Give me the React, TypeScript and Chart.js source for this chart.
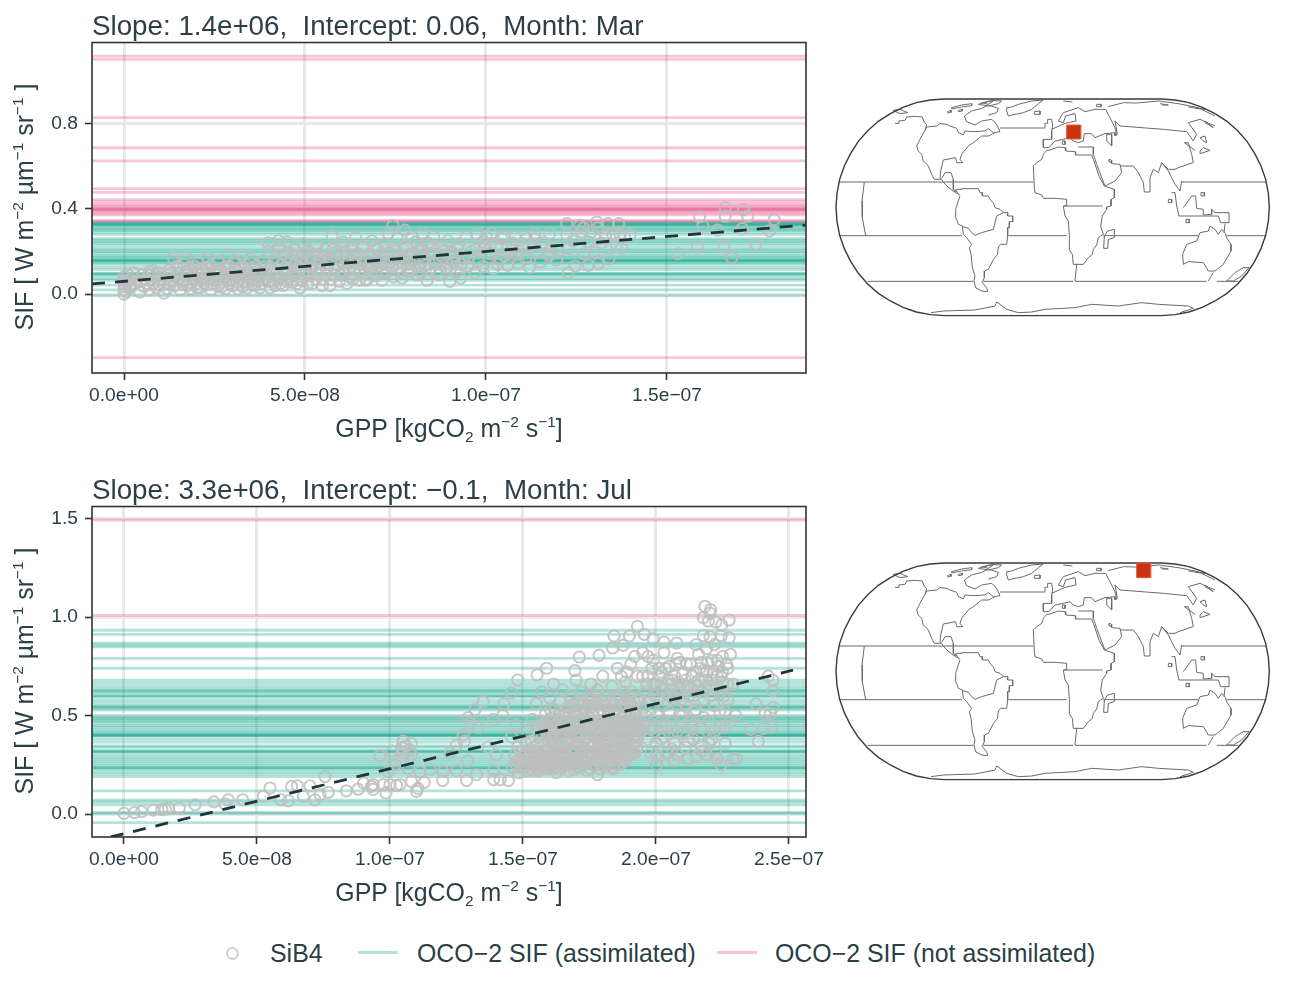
import React, { useEffect, useRef } from "react";
import { Chart, registerables } from "chart.js";
Chart.register(...registerables);

const INK = "#2B3F46";
const FONT = '"Liberation Sans", Arial, sans-serif';

// ---- March panel ----
const titleMar = "Slope: 1.4e+06,  Intercept: 0.06,  Month: Mar";
const tealMar = [.336,.333,.33,.327,.325,.323,.318,.309,.304,.299,.29,.28,.26,.253,.246,.239,.229,.215,.206,.199,.192,.182,.175,.168,.161,.158,.156,.154,.147,.14,.126,.115,.098,.095,.094,.085,.073,.065,.042,.02,-.007];
const pinkMar = [1.115,1.1,.827,.686,.624,.494,.477,.443,.432,.42,.412,.405,.398,.396,.394,.388,.38,.372,.345,.341,-.298];
const gppTicksMar = [0, 5e-8, 1e-7, 1.5e-7];
const gppLabelsMar = ["0.0e+00", "5.0e\u221208", "1.0e\u221207", "1.5e\u221207"];
const sifTicksMar = [0, .4, .8];
const sifLabelsMar = ["0.0", "0.4", "0.8"];
const fitMar = [[-8.84, .0476], [188.4, .3238]];
const sibMar = [
[0,0],[0,.02],[0,.035],[0,.05],[0,.065],[0,.08],[.5,.01],[1,.09],[1,.06],[1.5,.03],[2.6,.1],[2.5,.075],[3,.05],[4.4,.01],[4.5,.06],[5,.09],[5.5,.035],[6,.07],[7,.02],[7,.105],[8,.11],[8,.05],[8.5,.085],[9,.03],[9.5,.1],[10,.065],[11,.005],[11,.045],[11.5,.09],[12,.025],[12.5,.115],[13,.06],[13.6,.17],[14,.08],[14,.04],[14.5,.13],[15,.1],[15.5,.02],[16,.06],[16.5,.14],[17,.17],[17,.085],[17.5,.04],[18,.11],[18.5,.025],[19,.07],[19.5,.13],[20,.05],[20,.095],[20.5,.15],[21,.03],[21.5,.12],[22,.075],[23,.17],[23,.045],[23.5,.1],[24,.02],[24,.135],[25,.065],[25.5,.09],[26,.15],[26,.035],[26.5,.115],[27,.055],[27.5,.08],[28,.025],[28.7,.18],[29,.13],[29,.065],[29.5,.1],[30,.04],[30.5,.155],[31,.085],[31.5,.025],[32,.12],[32.6,.18],[33,.055],[33,.1],[33.5,.14],[34,.03],[34.5,.075],[35,.165],[35,.115],[35.5,.045],[36,.09],[36.5,.135],[37,.06],[37.5,.03],[38,.105],[38.5,.155],[39,.075],[39.8,.24],[40,.2],[40.3,.03],[40.5,.125],[41,.055],[41.5,.17],[42,.095],[42.6,.25],[43,.215],[43,.07],[43.5,.14],[44,.185],[44,.04],[45,.245],[45,.115],[45.5,.08],[46,.16],[46.5,.055],[47,.21],[47,.13],[47.5,.095],[48,.18],[48.6,.03],[49,.15],[49,.065],[49.5,.235],[50,.11],[50.5,.2],[51,.085],[51.5,.165],[52,.05],[52,.13],[53.3,.23],[53.5,.095],[54,.185],[54.5,.145],[55,.07],[55.5,.21],[56,.115],[56.9,.04],[57,.165],[57.5,.275],[58,.09],[58.5,.195],[59,.135],[59.5,.06],[60,.225],[60.5,.245],[60.5,.105],[61,.17],[61.6,.05],[62,.145],[62.5,.08],[63,.205],[63.5,.115],[64,.265],[64,.17],[65,.065],[65.5,.14],[66,.22],[66.5,.095],[67,.065],[67.5,.185],[68,.12],[68.5,.25],[69,.155],[69.5,.085],[70,.21],[70.5,.13],[71.3,.065],[71.5,.175],[72,.235],[72.5,.1],[73,.285],[73.5,.15],[74.3,.322],[74.5,.08],[75,.2],[75.5,.26],[76,.125],[76.8,.075],[77,.17],[77.6,.3],[78,.225],[78.5,.105],[79,.145],[79.5,.27],[80,.19],[80.5,.245],[81,.09],[81.5,.13],[82,.21],[82.5,.285],[83,.165],[83.7,.065],[84,.24],[84.5,.115],[85,.19],[85.5,.27],[86,.145],[87,.09],[87.5,.22],[88,.17],[89,.125],[89.5,.25],[90,.06],[90.5,.195],[91,.15],[92,.105],[92.5,.235],[93,.075],[94,.17],[94.5,.27],[95,.13],[96,.2],[97,.1],[97.5,.28],[98,.155],[99,.245],[99.5,.215],[100,.27],[101,.19],[101.5,.285],[102,.12],[103,.225],[104,.165],[104.5,.26],[105,.27],[106,.135],[107,.205],[108,.27],[108.5,.185],[109,.145],[110,.235],[111,.165],[112,.125],[113.5,.284],[113.5,.26],[114,.2],[115,.15],[117.6,.284],[117.6,.183],[119.5,.159],[122.3,.331],[122.3,.279],[122.7,.215],[122.7,.1],[124.6,.131],[125.9,.323],[126.4,.292],[128.3,.245],[128.3,.135],[130,.197],[130.6,.338],[131,.31],[131,.143],[133,.27],[133.7,.33],[134,.167],[136,.23],[136.7,.33],[137.4,.215],[138.3,.27],[139.8,.278],
[153,.19],[158.4,.221],[159,.362],[159.9,.32],[164,.3],[165.7,.221],[166.1,.405],[166.1,.365],[167.9,.17],[170.8,.307],[171.1,.396],[172.3,.365],[174.5,.232],[178.3,.296],[179.6,.349]
];
const sibMarDense = [
[2,.04],[6.5,.05],[6.8,.09],[9.8,.045],[10.5,.085],[12.2,.05],[13.2,.1],[15.2,.075],[16.2,.045],[17.2,.105],[18.2,.055],[19.2,.09],[20.2,.03],[21.2,.07],[21.8,.1],[22.2,.05],[22.8,.125],[23.8,.075],[24.5,.05],[25.2,.11],[26.2,.07],[27.2,.035],[27.8,.125],[28.2,.095],[29.2,.05],[30.2,.075],[30.8,.115],[31.2,.055],[32.2,.09],[32.8,.035],[33.2,.125],[34.2,.055],[34.8,.1],[35.2,.07],[36.2,.04],[36.8,.11],[37.2,.08],[38.2,.05],[38.8,.13],[39.2,.095],[40.2,.06],[41.2,.11],[41.8,.04],[42.2,.15],[42.8,.08],[43.2,.05],[44.2,.1],[44.8,.125],[45.2,.06],[46.2,.19],[46.8,.085],[47.2,.145],[47.8,.05],[48.2,.11],[48.8,.07],[49.2,.17],[50.2,.135],[50.8,.05],[51.2,.09],[51.8,.115],[52.2,.19],[53,.07],[53.8,.15],[54.2,.115],[54.8,.04],[55.2,.17],[55.8,.09],[56.2,.14],[57.2,.07],[57.8,.21],[58.2,.115],[59,.17],[59.8,.09],[60.2,.15],[61.2,.2],[62.2,.11],[63.2,.07],[63.8,.15],[64.5,.19],[65.2,.105],[66.2,.16],[66.8,.07],[67.2,.13],[68.2,.1],[68.8,.18],[69.2,.22],[70.2,.155],[71.2,.105],[72.2,.14],[73.2,.195],[74.2,.125],[75.2,.165],[76.2,.1],[77.2,.21],[78.2,.14],[78.8,.185],[79.2,.115],[80.2,.16],[81.2,.205],[82.2,.1],[83.2,.135],[84.2,.19],[85.2,.225],[86.2,.105],[87.2,.16],[88.2,.2],[89.2,.145],[90.2,.12],[91.2,.18],[92.2,.21],[93.2,.14],[95.2,.17],[97.2,.21],[99.2,.13],[101.2,.235],[103.2,.14],[105.2,.18],[107.2,.24],[109.2,.2],[111.2,.26],[113,.23],[116,.24],[118,.22],[120,.2],[124,.25],[127,.19],[129,.29],[132,.24],[135,.28],[137,.28],[127,.31]
];

// ---- July panel ----
const titleJul = "Slope: 3.3e+06,  Intercept: \u22120.1,  Month: Jul";
const tealJul = [.933,.912,.868,.858,.849,.79,.74,.679,.664,.649,.636,.628,.623,.616,.603,.6,.593,.578,.565,.552,.544,.542,.537,.527,.497,.487,.485,.475,.469,.459,.449,.441,.431,.421,.413,.405,.402,.4,.398,.395,.38,.365,.346,.34,.324,.318,.316,.314,.3,.289,.279,.269,.258,.248,.238,.236,.233,.225,.213,.203,.19,.118,.071,.061,.046,.008,.003,-.044];
const pinkJul = [1.492, 1.008];
const gppTicksJul = [0, 5e-8, 1e-7, 1.5e-7, 2e-7, 2.5e-7];
const gppLabelsJul = ["0.0e+00", "5.0e\u221208", "1.0e\u221207", "1.5e\u221207", "2.0e\u221207", "2.5e\u221207"];
const sifTicksJul = [0, .5, 1, 1.5];
const sifLabelsJul = ["0.0", "0.5", "1.0", "1.5"];
const fitJul = [[-5, -.1165], [251.5, .73]];
const sibJul = [
[0,.003],[3.9,.007],[6.6,.012],[11,.02],[14.2,.023],[15.5,.025],[16.7,.03],[20.8,.03],[26.7,.047],[33.8,.062],[38,.05],[39.2,.072],[44.6,.072],[52.4,.09],[54.9,.132],[59,.072],[61.8,.067],[63,.14],[65.2,.143],[67.4,.09],[69.9,.143],[71.8,.072],[73.7,.098],[76.8,.11],[75.6,.19],[83.6,.118],[88,.126],[90.1,.157],[93,.14],[93.7,.15],[93.7,.125],[97.5,.15],[98.5,.107],[96.2,.295],[100.6,.32],[99.4,.215],[104.4,.337],[107.5,.325],[108.1,.3],[105,.31],[106.9,.23],[102.5,.145],[100,.15],[103.8,.15],[108.1,.165],[111.3,.215],[110.5,.13],[110,.115],[112.9,.16],[105,.37],[108,.36],[106,.345],[104,.27],[102,.25],[115,.225],[119.8,.17],[120,.215],
[122.6,.31],[125,.35],[125,.22],[127.5,.4],[128,.37],[129.4,.49],[129.2,.27],[128.8,.17],[130,.46],[132,.53],[132.5,.2],[133,.44],[135,.57],[136.9,.34],[138.9,.48],[139,.22],[139,.175],[140,.3],[141.4,.175],[142.4,.5],[142.9,.56],[144.5,.17],[145.7,.615],[145.7,.39],[147.4,.45],[148,.68],[148.3,.21],[155.3,.707],[155.8,.225],[158.9,.74],[162.5,.21],[169.5,.728],[169.2,.225],[171.2,.797],[178,.2],[178.6,.805],[183.7,.843],[184.2,.904],[187.6,.856],[190,.904],[193,.953],[195.6,.912],[198.9,.89],[203,.873],[207.8,.868],[215,.86],[217.8,.906],[220.3,.9],[224.5,.905],[227.5,.895],[200.3,.25],[206.8,.27],[217.1,.32],[222.5,.31],[224.4,.25],[229,.28],[230.3,.28],
[218.4,1.054],[220.5,1.037],[217.8,.997],[220.3,1.02],[219.7,.98],[222.5,.975],[224.7,.96],[227.5,.985],
[242.2,.7],[244,.68],[244,.625],[237.6,.56],[244,.54],[241,.51],[243,.51],[243.5,.44],[240.5,.435],[235.6,.43],[238.5,.37],
[146,.24],[148,.27],[149,.31],[150,.235],[151,.36],[152,.26],[152,.42],[153,.3],[153.5,.48],[154,.22],[154.5,.34],[155,.27],[155,.56],[156,.39],[156.5,.24],[157,.3],[157,.62],[157.5,.45],[158,.26],[158,.35],[158.5,.51],[159,.23],[159,.41],[159.5,.29],[160,.59],[160,.33],[160.5,.47],[161,.25],[161,.38],[161.5,.66],[162,.3],[162,.53],[162.5,.43],[163,.27],[163,.35],[163.5,.5],[164,.23],[164,.57],[164.5,.31],[165,.4],[165,.63],[165.5,.26],[166,.46],[166,.34],[166.5,.54],[167,.29],[167,.22],[167.5,.38],[168,.6],[168,.25],[168.5,.43],[169,.32],[169,.51],[169.5,.27],[170,.36],[170,.68],[170.5,.57],[171,.24],[171,.47],[171.5,.3],[172,.41],[172,.62],[172.5,.34],[173,.26],[173,.53],[173.5,.38],[174,.22],[174,.45],[174.5,.31],[175,.59],[175,.28],[175.5,.66],[176,.35],[176,.5],[176.5,.42],[177,.25],[177,.56],[177.5,.32],[178,.39],[178,.63],[178.5,.29],[179,.47],[179,.23],[179.5,.53],[180,.36],[180,.7],[180.5,.27],[181,.44],[181,.6],[181.5,.33],[182,.25],[182,.5],[182.5,.4],[183,.3],[183,.57],[183.5,.65],[184,.37],[184,.23],[184.5,.46],[185,.28],[185,.53],[185.5,.74],[186,.34],[186,.42],[186.5,.6],[187,.26],[187,.49],[187.5,.31],[188,.38],[188,.56],[188.5,.67],[189,.29],[189,.45],[189.5,.35],[190,.52],[190,.41],[190.5,.76],[191,.31],[191,.62],[191.5,.47],[192,.37],[192,.43],[192.5,.54],[193,.34],[193,.7],[193.5,.4],[194,.47],[194,.58],
[147,.3],[148,.34],[150,.29],[151,.25],[153,.37],[154,.26],[155,.44],[156,.31],[156,.22],[157,.36],[158,.43],[159,.33],[160,.27],[160,.4],[161,.49],[162,.36],[162,.24],[163,.43],[164,.3],[164,.39],[165,.5],[165,.24],[166,.28],[167,.35],[167,.47],[168,.41],[168,.31],[169,.27],[169,.56],[170,.44],[170,.33],[171,.39],[171,.55],[172,.28],[172,.49],[173,.33],[173,.43],[174,.26],[174,.59],[175,.37],[175,.49],[176,.3],[176,.58],[177,.44],[177,.35],[178,.27],[178,.52],[179,.33],[179,.41],[180,.3],[180,.57],[181,.38],[181,.25],[182,.46],[182,.33],[183,.42],[183,.27],[184,.5],[184,.31],[185,.39],[185,.6],[186,.46],[186,.29],[187,.55],[187,.36],[188,.43],[188,.31],[189,.5],[189,.39],[190,.34],[190,.6],[191,.44],[191,.39],[192,.31],[192,.5],[193,.45],[193,.58],
[196,.45],[196,.62],[197,.38],[197,.7],[198,.31],[198,.53],[199,.78],[199,.44],[200,.66],[200,.36],[201,.58],[201,.29],[202,.72],[202,.47],[203,.82],[203,.39],[204,.61],[204,.31],[205,.52],[205,.75],[206,.44],[206,.68],[207,.36],[207,.59],[208,.79],[208,.3],[209,.5],[209,.64],[210,.71],[210,.41],[211,.34],[211,.56],[212,.65],[212,.28],[213,.47],[213,.76],[214,.38],[214,.6],[215,.29],[215,.53],[216,.81],[216,.68],[217,.44],[217,.35],[218,.73],[218,.58],[219,.84],[219,.3],[220,.65],[220,.47],[221,.78],[221,.38],[222,.55],[222,.86],[223,.7],[223,.28],[224,.61],[224,.44],[225,.8],[225,.67],[226,.52],[226,.36],[227,.74],[227,.58],[228,.47],[228,.81],[229,.66],[230,.5],[195,.7],[197,.8],[199,.66],[201,.74],[203,.55],[205,.6],[207,.7],[209,.77],[211,.68],[213,.64],[215,.72],[217,.77],[219,.72],[221,.68],[223,.78],[225,.72],[227,.66],[189,.72],[187,.7],[192,.8],[195,.82],[188,.62]
];
const sibJulDense = [
[147.5,.25],[149.5,.27],[150.5,.3],[151.5,.22],[152.5,.33],[153.2,.25],[154.2,.29],[155.2,.24],[155.7,.35],[156.7,.28],[157.3,.4],[158.2,.31],[158.7,.24],[159.3,.37],[159.7,.27],[160.2,.44],[160.7,.3],[161.2,.23],[161.7,.34],[162.2,.41],[162.7,.27],[163.2,.47],[163.7,.31],[164.2,.36],[164.7,.25],[165.2,.43],[165.7,.3],[166.2,.52],[166.7,.37],[167.2,.26],[167.7,.44],[168.2,.33],[168.7,.49],[169.2,.28],[169.7,.4],[170.2,.24],[170.7,.36],[171.2,.52],[171.7,.43],[172.2,.31],[172.7,.57],[173.2,.26],[173.7,.46],[174.2,.35],[174.7,.41],[175.2,.23],[175.7,.54],[176.2,.31],[176.7,.46],[177.2,.39],[177.7,.27],[178.2,.6],[178.7,.36],[179.2,.44],[179.7,.25],[180.2,.51],[180.7,.31],[181.2,.4],[181.7,.55],[182.2,.28],[182.7,.36],[183.2,.47],[183.7,.24],[184.2,.56],[184.7,.34],[185.2,.43],[185.7,.29],[186.2,.5],[186.7,.38],[187.2,.33],[187.7,.45],[188.2,.27],[188.7,.54],[189.2,.36],[189.7,.42],[190.2,.3],[190.7,.49],[191.2,.35],[191.7,.57],[192.2,.4],[192.7,.33],[193.2,.48],[193.7,.43],
[149,.24],[151,.28],[152.8,.23],[154.8,.31],[156.2,.26],[157.8,.32],[159.2,.25],[160.8,.36],[162.2,.28],[163.8,.41],[165.2,.33],[166.8,.28],[168.2,.38],[169.8,.31],[171.2,.26],[172.8,.37],[174.2,.29],[175.8,.42],[177.2,.28],[178.8,.34],[180.2,.4],[181.8,.28],[183.2,.33],[184.8,.41],[186.2,.25],[187.8,.35],[189.2,.43],[190.8,.32],[192.2,.46],[158.3,.46],[160.3,.53],[162.4,.48],[164.4,.45],[166.4,.49],[168.4,.54],[170.4,.5],[172.4,.48],[174.4,.55],[176.4,.52],[178.4,.47],[180.4,.55],[182.4,.53],[184.4,.48],[186.4,.55],[188.4,.47],[190.4,.56],[192.4,.52],[194.4,.42],
[195.5,.54],[196.5,.66],[197.5,.58],[198.5,.74],[199.5,.6],[200.5,.5],[201.5,.7],[202.5,.63],[203.5,.74],[204.5,.68],[205.5,.66],[206.5,.58],[207.5,.76],[208.5,.67],[209.5,.58],[210.5,.65],[211.5,.76],[212.5,.6],[213.5,.7],[214.5,.52],[215.5,.65],[216.5,.74],[217.5,.62],[218.5,.68],[219.5,.77],[220.5,.6],[221.5,.72],[222.5,.64],[223.5,.75],[224.5,.7],[225.5,.6],[226.5,.76],[196,.5],[198,.43],[200,.3],[202,.38],[204,.45],[206,.33],[208,.42],[210,.5],[212,.37],[214,.45],[216,.39],[218,.49],[220,.36],[222,.42],[224,.52],[226,.44]
];

// ---- map outlines, in projected map units ----
const mapFrame = [[358,24],[316,27],[274,35],[234,49],[196,68],[160,91],[128,119],[100,151],[77,187],[58,225],[44,265],[36,307],[33,349],[36,391],[44,433],[58,473],[77,511],[100,547],[128,579],[160,607],[196,630],[234,649],[274,663],[316,671],[358,674],[1008,674],[1050,671],[1092,663],[1132,649],[1170,630],[1206,607],[1238,579],[1266,547],[1289,511],[1308,473],[1322,433],[1330,391],[1333,349],[1330,307],[1322,265],[1308,225],[1289,187],[1266,151],[1238,119],[1206,91],[1170,68],[1132,49],[1092,35],[1050,27],[1008,24],[358,24]];
const mapParallels = [
[[42,273],[625,273]],[[1070,273],[1325,273]],[[45,434],[410,434]],[[550,434],[725,434]],[[835,434],[1120,434]],[[1205,434],[1322,434]],
[[128,571],[445,571]],[[475,571],[745,571]],[[750,571],[1145,571]],[[1175,571],[1240,571]],[[525,111],[660,111]],[[717,345],[833,345]],
[[118,273],[111,330],[112,380],[122,434]]
];
const northAmerica = [[210,97],[222,97],[222,90],[240,88],[245,78],[270,76],[292,78],[298,95],[305,100],[300,118],[285,145],[275,165],[280,180],[290,190],[295,210],[310,225],[320,250],[328,265],[350,265],[360,280],[380,297],[405,312]];
const northAmericaEast = [[300,118],[305,108],[335,105],[345,98],[365,100],[375,105],[395,112],[400,125],[415,132],[420,120],[445,122],[480,120],[490,113],[505,125],[525,122],[515,100],[500,85],[470,90],[450,102],[425,92],[418,75],[440,60],[470,52],[490,42],[520,52],[515,65],[490,72]];
const northAmericaCoast = [[510,125],[490,135],[470,135],[445,155],[430,165],[410,190],[405,205],[413,215],[395,215],[392,200],[355,207],[347,240],[345,265]];
const centralAmerica = [[350,262],[360,245],[378,245],[385,265],[385,295],[400,305]];
const arcticIslands = [
[[368,62],[378,58],[378,64],[368,66],[368,62]],[[400,58],[412,55],[412,60],[400,62],[400,58]],[[380,50],[410,42],[440,38],[440,44],[410,48],[380,54],[380,50]],
[[460,40],[500,28],[530,30],[520,38],[490,45],[460,40]],[[470,35],[505,30],[490,40],[470,35]],[[205,58],[225,55],[248,65],[225,68],[205,58]],[[628,62],[645,60],[645,70],[628,70],[628,62]],
[[715,30],[742,33]],[[815,40],[828,40],[828,47],[815,47],[815,40]],[[1005,38],[1030,42],[1010,42]],[[1090,48],[1140,55],[1110,52]]
];
const greenland = [[545,50],[560,48],[580,40],[620,30],[655,27],[640,38],[620,55],[595,65],[570,70],[550,75],[545,60],[545,50]];
const southAmerica = [[385,300],[393,300],[393,295],[410,295],[410,293],[460,293],[465,305],[472,305],[472,315],[490,315],[497,328],[505,335],[510,350],[525,355],[535,365],[548,365],[548,375],[563,375],[563,392],[553,392],[553,410],[548,410],[548,435],[545,460],[527,460],[520,468],[518,490],[505,505],[498,520],[490,535],[478,540],[478,560],[472,575],[485,590],[488,602],[470,600],[452,590],[447,570],[450,555],[442,530],[438,490],[433,470],[440,460],[425,440],[415,430],[412,405],[400,400],[395,385],[390,375],[392,355],[400,330],[405,315]];
const amazonBorder = [[412,406],[430,412],[440,425],[450,433],[470,425],[505,415],[515,375],[535,365]];
const africa = [[625,225],[635,215],[650,205],[655,190],[665,178],[672,178],[700,168],[720,170],[722,180],[750,182],[752,192],[800,192],[805,205],[812,225],[822,255],[838,285],[868,295],[868,320],[858,325],[858,345],[845,348],[845,355],[832,375],[827,405],[835,430],[820,440],[815,462],[805,475],[802,490],[790,500],[775,520],[745,520],[742,490],[732,475],[733,433],[730,390],[720,375],[715,345],[725,345],[725,325],[690,322],[655,322],[650,312],[630,305],[628,290],[625,225]];
const capeBorder = [[755,520],[750,570]];
const madagascar = [[836,472],[848,472],[850,445],[868,440],[868,415],[848,420],[838,435],[836,472]];
const europe = [[660,110],[660,97],[668,97],[668,85],[680,85],[683,105],[680,120],[680,145],[655,145],[655,170],[672,170],[690,150],[715,145],[735,140],[745,150],[760,155],[775,150],[778,128],[800,128],[810,140],[840,128],[870,125],[870,135],[877,130],[870,90],[885,105],[1015,115],[1085,122],[1105,150],[1115,130],[1090,95],[1125,85],[1170,105]];
const scandinavia = [[680,115],[720,97],[753,90],[750,68],[722,75],[715,95],[700,90],[715,65],[760,50],[780,62],[810,55],[842,55],[870,110],[875,132]];
const arabia = [[760,168],[805,168],[805,190],[815,220],[840,285],[870,270],[890,245],[885,220],[860,218],[850,208]];
const southAsia = [[885,225],[925,225],[940,245],[955,275],[958,303],[975,303],[975,260],[985,235],[1000,245],[1010,215],[1030,235],[1050,235],[1060,230],[1095,218],[1105,215],[1100,190],[1090,155],[1078,155],[1110,178]];
const indochina = [[1010,215],[1030,240],[1050,280],[1065,300],[1070,270]];
const blackSea = [[845,130],[860,130],[860,165],[845,150],[845,130]];
const siberiaCoast = [[850,47],[895,35],[935,36],[1000,30],[1060,38],[1120,50],[1170,75]];
const indonesia = [[1040,305],[1050,305],[1055,345],[1062,375],[1180,375],[1187,395],[1212,395],[1212,365],[1170,365],[1160,355],[1160,370],[1135,372],[1135,355],[1115,352],[1112,315],[1100,315],[1075,350]];
const smallIslands = [
[[1030,325],[1040,325],[1040,335],[1030,335],[1030,325]],[[1128,305],[1138,305],[1138,315],[1128,315],[1128,305]],[[1083,385],[1093,385],[1093,395],[1083,395],[1083,385]],
[[1125,140],[1140,135],[1145,155],[1135,150],[1125,140]],[[1125,180],[1135,170],[1155,178],[1125,188],[1125,180]],[[1140,90],[1165,110],[1140,95],[1140,90]],
[[712,150],[720,150],[720,160],[712,160],[712,150]],[[852,205],[860,208],[860,215],[852,212],[852,205]]
];
const australia = [[1075,520],[1073,490],[1085,460],[1115,450],[1125,425],[1150,420],[1155,405],[1170,415],[1180,430],[1190,415],[1200,425],[1205,440],[1218,460],[1218,480],[1195,520],[1170,540],[1150,540],[1135,515],[1090,512],[1075,520]];
const australiaBorders = [[[1165,545],[1150,570]],[[1200,398],[1197,425]]];
const newZealand = [[1205,570],[1230,545],[1255,530],[1272,530],[1250,555],[1225,570],[1205,570]];
const antarctica = [[318,665],[355,660],[450,657],[510,645],[515,633],[525,640],[545,655],[580,665],[620,663],[660,655],[750,650],[800,640],[880,645],[950,635],[1000,640],[1090,645],[1105,652],[1065,665]];
const coastLines = [northAmerica, northAmericaEast, northAmericaCoast, centralAmerica, ...arcticIslands, greenland, southAmerica, amazonBorder, africa, capeBorder, madagascar, europe, scandinavia, arabia, southAsia, indochina, blackSea, siberiaCoast, indonesia, ...smallIslands, australia, ...australiaBorders, newZealand, antarctica];
const cellMar = [[725,102],[767,102],[767,144],[725,144],[725,102]];
const cellJul = [[935,24],[977,24],[977,68],[935,68],[935,24]];

const legendLabels = ["SiB4", "OCO\u22122 SIF (assimilated)", "OCO\u22122 SIF (not assimilated)"];

const toXY = (p: number[][]) => p.map(([x, y]) => ({ x, y }));

function Panel({ top, sib, teal, pink, fit, xMin, xMax, yMin, yMax, xTicks, xLabels, yTicks, yLabels }: any) {
  const ref = useRef<HTMLCanvasElement>(null);
  useEffect(() => {
    const hline = (v: number, color: string, order: number) => ({
      data: [{ x: xMin, y: v }, { x: xMax, y: v }], showLine: true, borderColor: color, borderWidth: 2.8, pointRadius: 0, order,
    });
    const frame = {
      id: "frame",
      afterDatasetsDraw(c: any) {
        const a = c.chartArea, g = c.ctx;
        g.save(); g.strokeStyle = "#333333"; g.lineWidth = 1.6;
        g.strokeRect(a.left, a.top, a.right - a.left, a.bottom - a.top); g.restore();
      },
    };
    const chart = new Chart(ref.current!, {
      type: "scatter",
      data: {
        datasets: [
          ...teal.map((v: number) => hline(v, "rgba(8,162,135,0.3)", 4)),
          ...pink.map((v: number) => hline(v, "rgba(232,62,125,0.3)", 3)),
          { data: sib.map(([x, y]: number[]) => ({ x: x * 1e-9, y })), pointStyle: "circle", pointRadius: 5.6, pointBorderWidth: 2, pointBackgroundColor: "rgba(0,0,0,0)", pointBorderColor: "rgba(190,190,190,0.85)", order: 2 },
          { data: fit.map(([x, y]: number[]) => ({ x: x * 1e-9, y })), showLine: true, borderColor: "#20363C", borderWidth: 2.8, borderDash: [13, 10], pointRadius: 0, order: 1 },
        ] as any,
      },
      options: {
        animation: false, responsive: false,
        layout: { autoPadding: false, padding: { left: 0, right: 24, top: 11.5, bottom: 0 } },
        plugins: { legend: { display: false }, tooltip: { enabled: false } },
        scales: {
          x: {
            type: "linear", min: xMin, max: xMax,
            afterBuildTicks: (s: any) => { s.ticks = xTicks.map((value: number) => ({ value })); },
            afterFit: (s: any) => { s.height = 47; },
            border: { display: false },
            grid: { color: "#E8E8E8", lineWidth: 3, tickColor: "#333333", tickWidth: 1.6, tickLength: 7 },
            ticks: { autoSkip: false, maxRotation: 0, padding: 4, color: INK, font: { family: FONT, size: 19.2 },
              callback: (v: any) => xLabels[xTicks.indexOf(v)] },
          },
          y: {
            type: "linear", min: yMin, max: yMax,
            afterBuildTicks: (s: any) => { s.ticks = yTicks.map((value: number) => ({ value })); },
            afterFit: (s: any) => { s.width = 92; },
            border: { display: false },
            grid: { color: "#E8E8E8", lineWidth: 3, tickColor: "#333333", tickWidth: 1.6, tickLength: 7 },
            ticks: { autoSkip: false, padding: 7, color: INK, font: { family: FONT, size: 19.2 },
              callback: (v: any) => yLabels[yTicks.indexOf(v)] },
          },
        },
      } as any,
      plugins: [frame],
    });
    return () => chart.destroy();
  }, []);
  return <canvas ref={ref} width={830} height={396} style={{ position: "absolute", left: 0, top, width: 830, height: 396 }} />;
}

function WorldMap({ top, cell }: { top: number; cell: number[][] }) {
  const ref = useRef<HTMLCanvasElement>(null);
  useEffect(() => {
    const chart = new Chart(ref.current!, {
      type: "scatter",
      data: {
        datasets: [
          { data: toXY(cell), showLine: true, fill: "shape", backgroundColor: "#CC3311", borderColor: "#D9603F", borderWidth: 1, pointRadius: 0, order: 1 },
          ...coastLines.map((l) => ({ data: toXY(l), showLine: true, borderColor: "#6A6A6A", borderWidth: 1, pointRadius: 0, order: 3 })),
          ...mapParallels.map((l) => ({ data: toXY(l), showLine: true, borderColor: "#6A6A6A", borderWidth: 1, pointRadius: 0, order: 3 })),
          { data: toXY(mapFrame), showLine: true, borderColor: "#3A3A3A", borderWidth: 1.4, pointRadius: 0, order: 2 },
        ] as any,
      },
      options: {
        animation: false, responsive: false,
        layout: { autoPadding: false, padding: 0 },
        plugins: { legend: { display: false }, tooltip: { enabled: false } },
        scales: {
          x: { type: "linear", min: 0, max: 1350, display: false },
          y: { type: "linear", min: 0, max: 705, reverse: true, display: false },
        },
      } as any,
    });
    return () => chart.destroy();
  }, []);
  return <canvas ref={ref} width={450} height={235} style={{ position: "absolute", left: 825, top, width: 450, height: 235 }} />;
}

const sup = (t: string) => <sup style={{ fontSize: "62%", lineHeight: 0, verticalAlign: "0.62em" }}>{t}</sup>;
const sub = (t: string) => <sub style={{ fontSize: "62%", lineHeight: 0, verticalAlign: "-0.3em" }}>{t}</sub>;
const abs = (left: number, top: number, size: number, extra: any = {}) => ({
  position: "absolute", left, top, fontSize: size, lineHeight: 1, whiteSpace: "pre", color: INK, fontFamily: FONT, ...extra,
}) as React.CSSProperties;

function Titles({ top, title }: { top: number; title: string }) {
  return (
    <>
      <div style={abs(92, top - 30, 27.75)}>{title}</div>
      <div style={abs(449, top + 374, 24.9, { transform: "translateX(-50%)" })}>GPP [kgCO{sub("2")} m{sup("\u22122")} s{sup("\u22121")}]</div>
      <div style={abs(24, top + 165, 24.9, { transform: "translate(-50%,-50%) rotate(-90deg)" })}>SIF [ W m{sup("\u22122")} {"\u00B5"}m{sup("\u22121")} sr{sup("\u22121")} ]</div>
    </>
  );
}

export default function App() {
  return (
    <div style={{ position: "absolute", left: 0, top: 0, width: 1297, height: 984, background: "#fff", overflow: "hidden" }}>
      <Panel top={24} sib={[...sibMar, ...sibMarDense]} teal={tealMar} pink={pinkMar} fit={fitMar} xMin={-8.84e-9} xMax={1.884e-7} yMin={-0.3696} yMax={1.179} xTicks={gppTicksMar} xLabels={gppLabelsMar} yTicks={sifTicksMar} yLabels={sifLabelsMar} />
      <Panel top={488} sib={[...sibJul, ...sibJulDense]} teal={tealJul} pink={pinkJul} fit={fitJul} xMin={-1.203e-8} xMax={2.564e-7} yMin={-0.1166} yMax={1.561} xTicks={gppTicksJul} xLabels={gppLabelsJul} yTicks={sifTicksJul} yLabels={sifLabelsJul} />
      <WorldMap top={91} cell={cellMar} />
      <WorldMap top={555} cell={cellJul} />
      <Titles top={42} title={titleMar} />
      <Titles top={506} title={titleJul} />
      <div style={{ position: "absolute", left: 226, top: 947, width: 9, height: 9, border: "2px solid #CFCFCF", borderRadius: "50%" }} />
      <div style={abs(270, 941, 24.9)}>{legendLabels[0]}</div>
      <div style={{ position: "absolute", left: 358, top: 951, width: 40, height: 3, background: "#B5E3DB" }} />
      <div style={abs(417, 941, 24.9)}>{legendLabels[1]}</div>
      <div style={{ position: "absolute", left: 717, top: 951, width: 40, height: 3, background: "#F8C5D8" }} />
      <div style={abs(775, 941, 24.9)}>{legendLabels[2]}</div>
    </div>
  );
}
